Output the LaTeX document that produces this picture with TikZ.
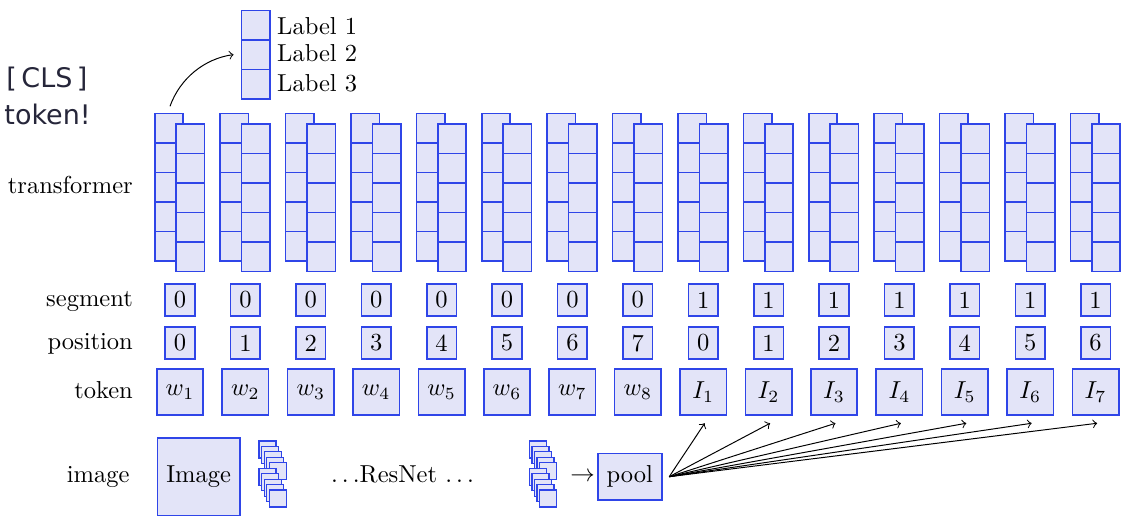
\documentclass[tikz,border=0pt]{standalone}
\usepackage{fontspec}
\newfontfamily\clsfont{DejaVu Sans}
\usetikzlibrary{calc}
\definecolor{cellfill}{HTML}{E3E4F8}
\definecolor{celldraw}{HTML}{2F45E8}
\definecolor{clstext}{HTML}{26263A}
\def\pu{0.408pt}
\begin{document}
\begin{tikzpicture}[x=0.408pt,y=-0.408pt,
  boxbase/.style={draw=celldraw, fill=cellfill, line width=0.65pt, inner sep=0pt, outer sep=0pt},
  tcell/.style={boxbase, minimum width=28.5*\pu, minimum height=29.5*\pu},
  smallbox/.style={boxbase, minimum width=29.5*\pu, minimum height=32.5*\pu},
  tokbox/.style={boxbase, minimum width=46.5*\pu, minimum height=46.5*\pu},
  fmap/.style={boxbase, line width=0.5pt, minimum width=17*\pu, minimum height=17*\pu},
  rowlabel/.style={anchor=base east, inner sep=0pt},
  lbltext/.style={anchor=west, inner sep=0pt},
  clsstyle/.style={anchor=base west, inner sep=0pt, text=clstext, font=\clsfont\fontsize{11}{13}\selectfont},
  conn/.style={->, line width=0.4pt}
]
\useasboundingbox (0,0) rectangle (1134,527);

% row labels
\node[rowlabel] (lt) at (133.3,193.3) {transformer};
\node[rowlabel] (ls) at (133.3,306.7) {segment};
\node[rowlabel] (lp) at (133.3,349.3) {position};
\node[rowlabel] (ltk) at (133.3,398.3) {token};
\node[rowlabel] (li) at (130,482.3) {image};

% CLS text
\node[clsstyle] (cls1) at (6,87.7) {[\,CLS\,]};
\node[clsstyle] (cls2) at (4,124.3) {token!};

% columns
\foreach \k in {0,...,14} {
  \pgfmathsetmacro\cx{180+65.4*\k}
  \pgfmathtruncatemacro\seg{\k<8?0:1}
  \pgfmathtruncatemacro\pos{\k<8?\k:\k-8}
  \pgfmathtruncatemacro\tn{\k<8?\k+1:\k-7}
  \edef\tl{\ifnum\k<8 w\else I\fi}
  \foreach \i in {0,...,4}
    \node[tcell] (b\k-\i) at ({\cx-11},{128.05+29.5*\i}) {};
  \foreach \i in {0,...,4}
    \node[tcell] (f\k-\i) at ({\cx+10.4},{139+29.4*\i}) {};
  \node[smallbox] (s\k) at (\cx,300) {\seg};
  \node[smallbox] (p\k) at (\cx,343) {\pos};
  \node[tokbox] (t\k) at (\cx,392) {$\tl_{\tn}$};
}

% label stack
\node[tcell] (L1) at (255.8,25.1) {};
\node[tcell] (L2) at (255.8,54.6) {};
\node[tcell] (L3) at (255.8,84.1) {};
\node[lbltext] (lab1) at (276.7,26) {Label 1};
\node[lbltext] (lab2) at (276.7,53) {Label 2};
\node[lbltext] (lab3) at (276.7,83) {Label 3};

% CLS arrow
\coordinate (clsstart) at ($(b0-0.north)+(1,-7)$);
\coordinate (clsend) at ($(L2.west)+(-8,0)$);
\draw[conn] (clsstart) .. controls ($(clsstart)+(10,-28)$) and ($(clsend)+(-29,4)$) .. (clsend);

% image row
\node[boxbase, minimum width=82.7*\pu, minimum height=77.6*\pu] (img) at (198.7,476.5) {Image};
\foreach \g/\gy in {0/441, 1/468.3} {
  \foreach \i in {0,...,4} {
    \node[fmap] (fa\g-\i) at ({267.5+2.6*\i},{\gy+8.5+5.4*\i}) {};
  }
}
\node[anchor=base, inner sep=0pt] (resnet) at (402.5,482.3) {$\ldots$ResNet $\ldots$};
\foreach \g/\gy in {0/441, 1/468.3} {
  \foreach \i in {0,...,4} {
    \node[fmap] (fb\g-\i) at ({537.8+2.6*\i},{\gy+8.5+5.4*\i}) {};
  }
}
\node[inner sep=0pt] (toarrow) at (582.5,477) {$\rightarrow$};
\node[boxbase, minimum width=64*\pu, minimum height=46.7*\pu] (pool) at (629.7,476.7) {pool};

\coordinate (poolout) at ($(pool.east)+(7.5,0)$);
\foreach \k in {8,...,14}
  \draw[conn] (poolout) -- ($(t\k.south)+(1.5,8)$);
\end{tikzpicture}
\end{document}
